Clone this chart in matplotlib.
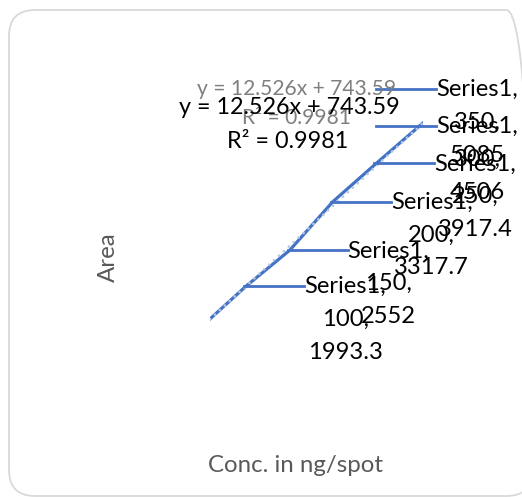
import matplotlib
matplotlib.use('Agg')
import matplotlib.pyplot as plt
from matplotlib.patches import FancyBboxPatch
from matplotlib.lines import Line2D
import numpy as np

# ---- data ----
conc = [50, 100, 150, 200, 250, 300, 350]
area = [1375, 1993.3, 2552, 3317.7, 3917.4, 4506, 5085]
labeled_conc = [100, 150, 200, 250, 300, 350]
series_name = "Series1"
slope, intercept, r2 = 12.526, 743.59, 0.9981
x_title = "Conc. in ng/spot"
y_title = "Area"

plt.rcParams['font.family'] = ['Lato', 'DejaVu Sans']

W, H = 522, 497
fig = plt.figure(figsize=(W / 100, H / 100), dpi=100, facecolor='white')
renderer = fig.canvas.get_renderer()

def fx(px):
    return px / W

def fy(py):
    return 1 - py / H

def fit(s, target, base=16):
    t = fig.text(0, 0, s, fontsize=base)
    w = t.get_window_extent(renderer).width
    t.remove()
    return base * target / w

# chart border
border = FancyBboxPatch((fx(9), fy(496)), fx(522) - fx(9) + 0.02, fy(10) - fy(496),
                        boxstyle="round,pad=0,rounding_size=0.05",
                        transform=fig.transFigure, facecolor='none',
                        edgecolor='#d9d9d9', lw=1.3, mutation_aspect=W / H, zorder=0)
fig.add_artist(border)

# plot area
ax = fig.add_axes([fx(210), fy(440), (423 - 210) / W, (440 - 60) / H])
ax.set_xlim(58.2, 304.0)
ax.set_ylim(-424, 5541)
ax.axis('off')

ax.plot(conc, area, color='#4472C4', lw=2.3, solid_capstyle='round', zorder=2)
xs = np.array(ax.get_xlim())
ax.plot(xs, slope * xs + intercept, color='#b4c7e7', lw=2.0,
        ls=(0, (0.01, 2.4)), dash_capstyle='round', zorder=3)

# axis titles
fs_title = fit(x_title, 175)
fig.text(fx(296), fy(466), x_title, color='#595959', fontsize=fs_title,
         ha='center', va='center')
fig.text(fx(108), fy(257), y_title, color='#595959', fontsize=fs_title,
         ha='center', va='center', rotation=90)

# trendline labels
eq = f"y = {slope}x + {intercept}"
r2s = f"R² = {r2}"
fs_gray = fit(eq, 199)
fig.text(fx(297), fy(89), eq, color='#7f7f7f', fontsize=fs_gray, ha='center', va='center')
fig.text(fx(297), fy(118), r2s, color='#7f7f7f', fontsize=fs_gray, ha='center', va='center')
fs_eq = fit(eq, 222)
fig.text(fx(289), fy(107), eq, color='black', fontsize=fs_eq, ha='center', va='center')
fig.text(fx(288), fy(141), r2s, color='black', fontsize=fs_eq, ha='center', va='center')

# data labels with leader lines
fs_lab = fit(series_name + ",", 82)
for x, y in zip(conc, area):
    if x not in labeled_conc:
        continue
    dx, dy = ax.transData.transform((x, y))
    px, py = dx, H - dy
    txt = f"{series_name},\n{x},\n{y:g}"
    t = fig.text(0, 0, txt, fontsize=fs_lab, ha='left', va='top',
                 multialignment='center', linespacing=1.7, color='black')
    wlab = t.get_window_extent(renderer).width
    left = min(px + 58, W - 4 - wlab)
    t.set_position((fx(left), fy(py - 10)))
    fig.add_artist(Line2D([fx(left - 60), fx(left)], [fy(py), fy(py)],
                          transform=fig.transFigure, color='#4472C4', lw=2.0))

fig.savefig('out.png', dpi=100)
